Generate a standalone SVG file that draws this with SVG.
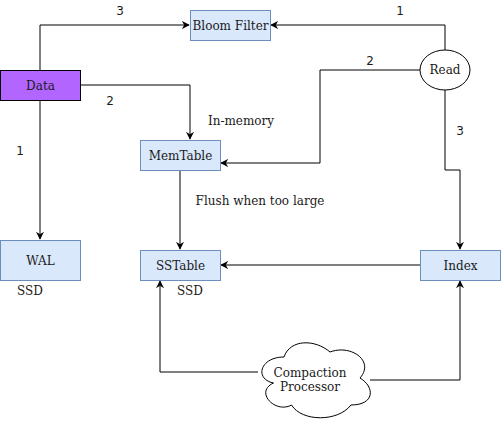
<svg xmlns="http://www.w3.org/2000/svg" width="501" height="421" viewBox="0 0 501 421">
<defs>
<style>
.box{fill:#dae8fc;stroke:#6c8ebf;stroke-width:1}
.t{font-family:"DejaVu Serif",serif;font-size:12px;fill:#1a1a1a;text-anchor:middle}
.n{font-family:"DejaVu Sans",sans-serif;font-size:12px;fill:#1a1a1a;text-anchor:middle}
.c{fill:none;stroke:#000;stroke-width:1}
</style>
<marker id="a" viewBox="0 0 10 10" refX="9" refY="5" markerWidth="8" markerHeight="8" orient="auto" markerUnits="userSpaceOnUse">
<path d="M0,0 L10,5 L0,10 L3,5 Z" fill="#000"/>
</marker>
</defs>
<rect width="501" height="421" fill="#fff"/>
<g id="connectors">
<path class="c" d="M40,70 V25 H189" marker-end="url(#a)"/>
<path class="c" d="M80,85 H190 V139" marker-end="url(#a)"/>
<path class="c" d="M40,100 V239" marker-end="url(#a)"/>
<path class="c" d="M445,50 V25 H271" marker-end="url(#a)"/>
<path class="c" d="M420,70 H320 V163 H221" marker-end="url(#a)"/>
<path class="c" d="M445,90 V170 H460 V249" marker-end="url(#a)"/>
<path class="c" d="M180,170 V249" marker-end="url(#a)"/>
<path class="c" d="M420,265 H221" marker-end="url(#a)"/>
<path class="c" d="M258,372 H160 V281" marker-end="url(#a)"/>
<path class="c" d="M370,380 H460 V281" marker-end="url(#a)"/>
<text class="n" x="120" y="15">3</text>
<text class="n" x="110" y="105">2</text>
<text class="n" x="20" y="155">1</text>
<text class="n" x="400" y="15">1</text>
<text class="n" x="370" y="65">2</text>
<text class="n" x="460" y="135">3</text>
<text class="t" x="241" y="125">In-memory</text>
<text class="t" x="260" y="205">Flush when too large</text>
</g>
<g id="bloom"><rect class="box" x="190.5" y="10.5" width="80" height="30"/><text class="t" x="230.5" y="30">Bloom Filter</text></g>
<g id="data"><rect x="0.5" y="70.5" width="80" height="30" fill="#b266ff" stroke="#000"/><text class="t" x="40.5" y="90">Data</text></g>
<g id="read"><ellipse cx="445" cy="70" rx="25" ry="20" fill="#fff" stroke="#000"/><text class="t" x="445" y="74">Read</text></g>
<g id="memtable"><rect class="box" x="140.5" y="140.5" width="80" height="30"/><text class="t" x="180.5" y="160">MemTable</text></g>
<g id="wal"><rect class="box" x="0.5" y="240.5" width="80" height="40"/><text class="t" x="40.5" y="265">WAL</text><text class="t" x="30" y="295">SSD</text></g>
<g id="sstable"><rect class="box" x="140.5" y="250.5" width="80" height="30"/><text class="t" x="180.5" y="270">SSTable</text><text class="t" x="190" y="295">SSD</text></g>
<g id="index"><rect class="box" x="420.5" y="250.5" width="80" height="30"/><text class="t" x="460.5" y="270">Index</text></g>
<g id="compaction">
<path d="M284,357 C260,357 254,379 273.5,383 C254,392 275.5,414 291.5,405 C302,422 338,422 351,405 C375,405 375,387 360,378 C375,361 351,344 330,352 C315,339 290,339 284,357 Z" fill="#fff" stroke="#000"/>
<text class="t" x="310" y="377">Compaction</text>
<text class="t" x="310" y="391">Processor</text>
</g>
</svg>
